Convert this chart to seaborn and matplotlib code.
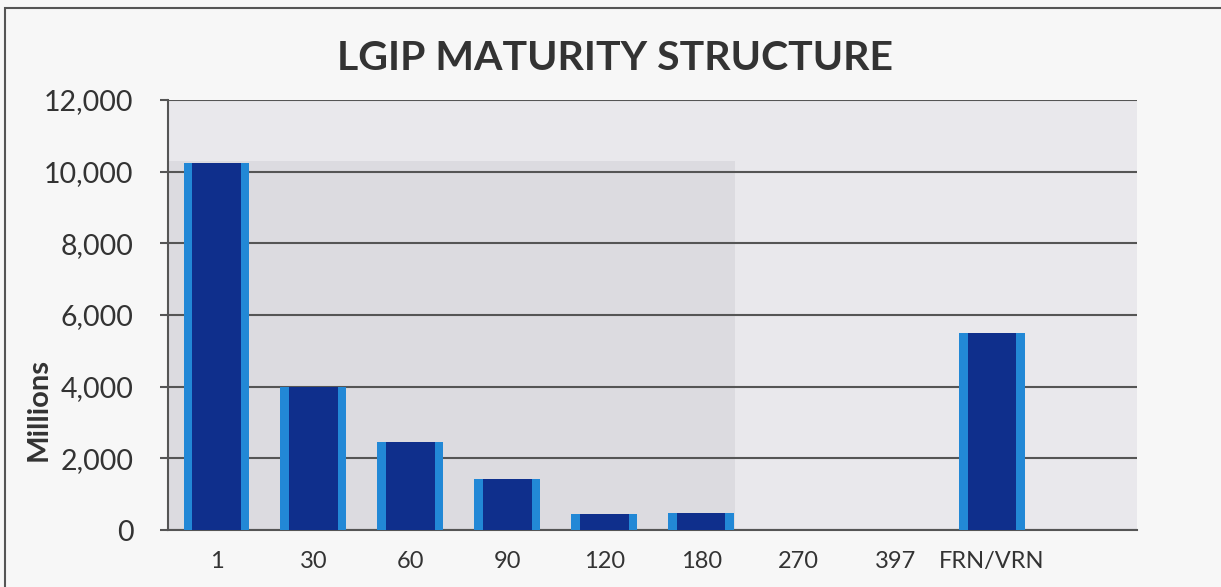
import pandas as pd
import seaborn as sns
import matplotlib.pyplot as plt
from matplotlib.patches import Rectangle

# data (millions)
maturity = ['1', '30', '60', '90', '120', '180', '270', '397', 'FRN/VRN', '']
amount = [10250, 4000, 2450, 1430, 450, 475, 0, 0, 5500, 0]
y_ticks = [0, 2000, 4000, 6000, 8000, 10000, 12000]

df = pd.DataFrame({'maturity': maturity, 'amount': amount})

sns.set_theme(style='white')
plt.rcParams['font.family'] = ['Lato', 'DejaVu Sans']

fig = plt.figure(figsize=(12.21, 5.87), dpi=100)
ax = fig.add_axes([0.1376, 0.097, 0.794, 0.733])

# plot area background (gray, a bit darker on the left part)
ax.set_facecolor('#e9e8ec')
ax.add_patch(Rectangle((-0.5, 0), 5.85, 10300, color='#dcdbe0', zorder=0, lw=0))

# bevelled bars: light blue outer bar, dark navy inner bar
sns.barplot(data=df, x='maturity', y='amount', color='#2288d6', width=0.68,
            saturation=1, linewidth=0, ax=ax, zorder=3)
sns.barplot(data=df, x='maturity', y='amount', color='#0f2f8c', width=0.50,
            saturation=1, linewidth=0, ax=ax, zorder=4)

ax.set_xlim(-0.5, 9.5)
ax.set_ylim(0, 12000)
ax.set_yticks(y_ticks)
ax.set_yticklabels([f'{v:,}' for v in y_ticks])
ax.yaxis.grid(True, color='#555555', lw=1.5)
ax.set_axisbelow(True)

for s in ['top', 'right']:
    ax.spines[s].set_visible(False)
for s in ['left', 'bottom']:
    ax.spines[s].set_color('#555555')
    ax.spines[s].set_linewidth(1.5)

ax.tick_params(axis='y', labelsize=20.5, colors='#333333', length=6, width=1.5,
               pad=19, left=True, color='#555555')
ax.tick_params(axis='x', labelsize=17, colors='#333333', length=0, pad=15)

ax.set_xlabel('')
ax.set_ylabel('Millions', fontsize=21, fontweight='bold', color='#333333')
ax.yaxis.set_label_coords(-0.12, 0.28)

fig.text(0.504, 0.90, 'LGIP MATURITY STRUCTURE', ha='center', va='center',
         fontsize=29.5, fontweight='bold', color='#333333')

# outer frame of the chart
fig.patches.append(Rectangle((0.004, -0.01), 1.0, 0.997, transform=fig.transFigure,
                             fill=False, ec='#555555', lw=1.5))
fig.patch.set_facecolor('#f7f7f7')

plt.savefig('out.png', dpi=100)
